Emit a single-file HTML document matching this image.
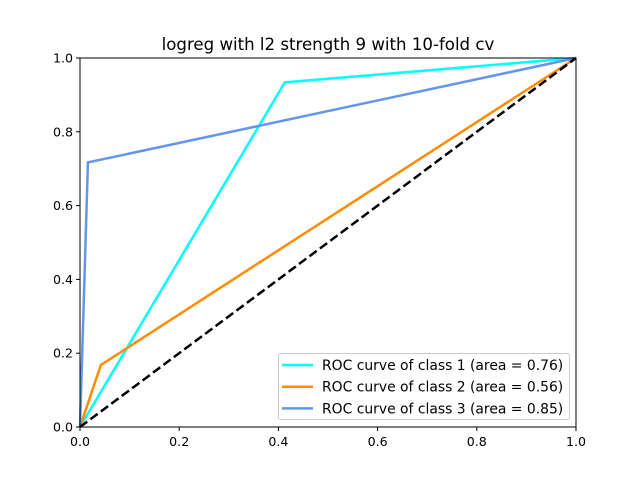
<!DOCTYPE html>
<html><head><meta charset="utf-8"><style>body{margin:0;background:#fff}svg{display:block;font-family:"DejaVu Sans","Liberation Sans",sans-serif}</style></head>
<body>
<svg id="c" width="640" height="480">
<rect width="640" height="480" fill="#fff"/>
<text x="328" y="50" font-size="16.6" text-anchor="middle">logreg with l2 strength 9 with 10-fold cv</text>
<g id="plot"></g>
</svg>
<script>
const classes = ["ROC curve of class 1 (area = 0.76)","ROC curve of class 2 (area = 0.56)","ROC curve of class 3 (area = 0.85)"];
const colors = ["#00ffff","#ff8c00","#6495ed"];
const fprs = [[0,0.413,1],[0,0.042,1],[0,0.016,1]];
const tprs = [[0,0.934,1],[0,0.168,1],[0,0.717,1]];
const ticks = [0,0.2,0.4,0.6,0.8,1.0];
const tickLabels = ["0.0","0.2","0.4","0.6","0.8","1.0"];
const L=80,R=576,T=58,B=427;
const sx=v=>L+v*(R-L), sy=v=>B-v*(B-T);
const g=document.getElementById('plot');
const NS="http://www.w3.org/2000/svg";
function mk(t,a,p){const e=document.createElementNS(NS,t);for(const k in a)e.setAttribute(k,a[k]);(p||g).appendChild(e);return e;}
fprs.forEach((f,i)=>{
  const pl=mk('polyline',{points:f.map((x,j)=>sx(x)+','+sy(tprs[i][j])).join(' '),fill:'none',stroke:colors[i],'stroke-width':2.5});
  
  
});
const d=mk('line',{x1:sx(0),y1:sy(0),x2:sx(1),y2:sy(1),stroke:'#000','stroke-width':2.5,'stroke-dasharray':'9,4'});


const fr=mk('rect',{x:L,y:T,width:R-L,height:B-T,fill:'none',stroke:'#000','stroke-width':1});


ticks.forEach((t,i)=>{
  mk('line',{x1:sx(t),y1:B,x2:sx(t),y2:B+4,stroke:'#000'});
  const xl=mk('text',{x:sx(t),y:B+19,'font-size':12.6,'text-anchor':'middle'});xl.textContent=tickLabels[i];
  
  
  mk('line',{x1:L-4,y1:sy(t),x2:L,y2:sy(t),stroke:'#000'});
  const yl=mk('text',{x:L-7,y:sy(t)+4.5,'font-size':12.6,'text-anchor':'end'});yl.textContent=tickLabels[i];
  
  
});
const lg=mk('g',{});


mk('rect',{x:278.5,y:353.5,width:291,height:66,rx:2,fill:'#fff','fill-opacity':0.8,stroke:'#ccc'},lg);
classes.forEach((c,i)=>{
  const y=365+i*21.7;
  mk('line',{x1:282,y1:y,x2:313,y2:y,stroke:colors[i],'stroke-width':2.5},lg);
  const t=mk('text',{x:322,y:y+5,'font-size':13.9},lg);t.textContent=c;
  
  
});
</script>
</body></html>
